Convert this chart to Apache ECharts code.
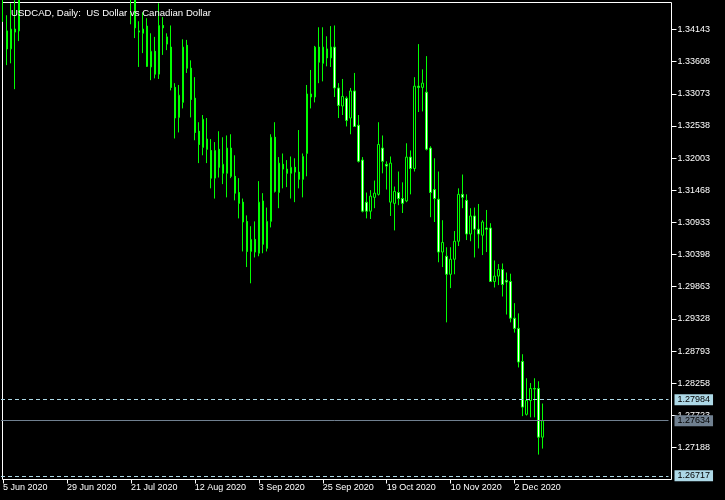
<!DOCTYPE html>
<html>
<head>
<meta charset="utf-8">
<script src="https://cdn.jsdelivr.net/npm/echarts@6/dist/echarts.min.js"></script>
<style>
html,body{margin:0;padding:0;background:#000;}
#c{width:725px;height:500px;}
</style>
</head>
<body>
<div id="c"></div>
<script>
// ---- data (bars 5..31 and tops of 0,4,32,33 lie above the visible range) ----
const opens = [1.3480,1.3412,1.3382,1.3415,1.3412,
1.3500,1.3560,1.3610,1.3570,1.3620,1.3580,1.3540,1.3590,1.3650,1.3630,1.3680,1.3660,1.3620,1.3580,1.3550,1.3570,1.3560,1.3590,1.3610,1.3580,1.3570,1.3590,1.3620,1.3600,1.3560,1.3580,1.3540,
1.3510,1.3470,1.3412,1.3408,1.3420,1.3352,1.3378,1.3340,1.3421,1.3402,1.3385,1.3318,1.3268,1.3293,1.3388,1.3350,1.3300,1.3245,1.3218,1.3232,
1.3213,1.3167,1.3215,1.3175,1.3175,1.3217,1.3170,1.3143,1.3127,1.3095,1.3045,1.3065,1.3042,1.3129,1.3050,1.3095,1.3235,1.3143,1.3190,1.3182,
1.3175,1.3185,1.3177,1.3165,1.3208,1.3307,1.3302,1.3385,1.3358,1.3382,1.3367,1.3385,1.3317,1.3287,1.3300,1.3267,1.3312,1.3255,1.3197,1.3127,
1.3112,1.3135,1.3140,1.3217,1.3190,1.3127,1.3125,1.3143,1.3133,1.3129,1.3202,1.3183,1.3320,1.3318,1.3310,1.3217,1.3148,1.3132,1.3044,1.3037,
1.3007,1.3032,1.3062,1.3140,1.3130,1.3074,1.3104,1.3082,1.3072,1.3084,1.3084,1.2995,1.3004,1.3015,1.2997,1.2995,1.2934,1.2917,1.2862,1.2774,
1.2797,1.2817,1.2817,1.2736];
const closes = [1.3470,1.3382,1.3415,1.3410,1.3500,
1.3560,1.3610,1.3570,1.3620,1.3580,1.3540,1.3590,1.3650,1.3630,1.3680,1.3660,1.3620,1.3580,1.3550,1.3570,1.3560,1.3590,1.3610,1.3580,1.3570,1.3590,1.3620,1.3600,1.3560,1.3580,1.3540,1.3510,
1.3480,1.3417,1.3410,1.3415,1.3353,1.3378,1.3340,1.3421,1.3417,1.3390,1.3318,1.3267,1.3305,1.3385,1.3350,1.3298,1.3243,1.3223,1.3265,1.3215,
1.3167,1.3213,1.3185,1.3190,1.3217,1.3170,1.3142,1.3125,1.3094,1.3045,1.3065,1.3044,1.3127,1.3057,1.3095,1.3235,1.3145,1.3192,1.3182,1.3175,
1.3185,1.3177,1.3165,1.3203,1.3307,1.3302,1.3385,1.3360,1.3385,1.3367,1.3385,1.3317,1.3288,1.3303,1.3263,1.3312,1.3253,1.3195,1.3112,1.3112,
1.3137,1.3142,1.3223,1.3195,1.3187,1.3192,1.3145,1.3133,1.3125,1.3202,1.3183,1.3320,1.3318,1.3325,1.3215,1.3143,1.3133,1.3044,1.3060,1.3007,
1.3032,1.3062,1.3140,1.3135,1.3074,1.3104,1.3082,1.3074,1.3094,1.3082,1.2995,1.3004,1.3015,1.2990,1.2994,1.2934,1.2917,1.2861,1.2786,1.2797,
1.2817,1.2816,1.2736,1.27634];
const lows = [1.3427,1.3355,1.3358,1.3315,1.3395,
1.3480,1.3530,1.3545,1.3550,1.3560,1.3510,1.3520,1.3570,1.3600,1.3610,1.3630,1.3600,1.3560,1.3530,1.3520,1.3540,1.3530,1.3560,1.3560,1.3530,1.3550,1.3570,1.3580,1.3540,1.3530,1.3520,1.3490,
1.3423,1.3400,1.3352,1.3375,1.3352,1.3330,1.3333,1.3332,1.3372,1.3380,1.3313,1.3233,1.3243,1.3283,1.3342,1.3268,1.3230,1.3192,1.3205,1.3192,
1.3150,1.3133,1.3168,1.3157,1.3135,1.3167,1.3130,1.3100,1.3045,1.3019,1.2992,1.3035,1.3037,1.3042,1.3045,1.3085,1.3143,1.3117,1.3150,1.3152,
1.3133,1.3127,1.3150,1.3135,1.3170,1.3283,1.3293,1.3325,1.3328,1.3353,1.3352,1.3302,1.3267,1.3272,1.3253,1.3240,1.3253,1.3193,1.3110,1.3100,
1.3099,1.3117,1.3138,1.3175,1.3148,1.3104,1.3080,1.3122,1.3109,1.3127,1.3140,1.3178,1.3277,1.3278,1.3213,1.3102,1.3094,1.3027,1.3019,1.2927,
1.2984,1.3007,1.3054,1.3117,1.3064,1.3062,1.3035,1.3050,1.3039,1.3044,1.2994,1.2985,1.2989,1.2970,1.2940,1.2927,1.2910,1.2852,1.2771,1.2772,
1.2769,1.2769,1.2707,1.2717];
const highs = [1.3510,1.3438,1.3458,1.3463,1.3530,
1.3590,1.3640,1.3630,1.3660,1.3650,1.3610,1.3620,1.3680,1.3690,1.3710,1.3700,1.3690,1.3650,1.3610,1.3600,1.3590,1.3620,1.3640,1.3630,1.3600,1.3620,1.3650,1.3640,1.3620,1.3600,1.3600,1.3560,
1.3530,1.3490,1.3428,1.3443,1.3433,1.3408,1.3402,1.3458,1.3435,1.3408,1.3421,1.3325,1.3322,1.3398,1.3397,1.3363,1.3335,1.3260,1.3272,1.3267,
1.3232,1.3227,1.3245,1.3235,1.3238,1.3240,1.3205,1.3167,1.3133,1.3105,1.3087,1.3095,1.3162,1.3142,1.3118,1.3240,1.3260,1.3202,1.3208,1.3197,
1.3203,1.3200,1.3247,1.3208,1.3322,1.3347,1.3387,1.3418,1.3418,1.3403,1.3420,1.3421,1.3325,1.3332,1.3303,1.3317,1.3342,1.3272,1.3202,1.3143,
1.3147,1.3163,1.3260,1.3238,1.3195,1.3203,1.3153,1.3178,1.3160,1.3225,1.3213,1.3335,1.3390,1.3348,1.3370,1.3220,1.3200,1.3178,1.3097,1.3052,
1.3052,1.3079,1.3150,1.3173,1.3140,1.3117,1.3118,1.3124,1.3097,1.3114,1.3092,1.3030,1.3024,1.3025,1.3010,1.3008,1.2959,1.2942,1.2874,1.2834,
1.2826,1.2834,1.2829,1.2792];

const yTickValues = [1.34143,1.33608,1.33073,1.32538,1.32003,1.31468,1.30933,1.30398,1.29863,1.29328,1.28793,1.28258,1.27723,1.27188];
const dashedLevels = [1.27984, 1.26717];
const bidLevel = 1.27634;
const titleText = 'USDCAD, Daily:  US Dollar vs Canadian Dollar';
const startDate = [2020, 5, 5];   // 5 Jun 2020
const slotCount = 167;            // visible bar slots incl. right-hand shift
const labelEvery = 16;

// ---- build trading-day categories ----
const MON = ['Jan','Feb','Mar','Apr','May','Jun','Jul','Aug','Sep','Oct','Nov','Dec'];
const dates = [];
let d = new Date(Date.UTC(startDate[0], startDate[1], startDate[2]));
while (dates.length < slotCount) {
  const wd = d.getUTCDay();
  if (wd !== 0 && wd !== 6) dates.push(d.getUTCDate() + ' ' + MON[d.getUTCMonth()] + ' ' + d.getUTCFullYear());
  d = new Date(d.getTime() + 86400000);
}
const candles = opens.map((o, i) => [o, closes[i], lows[i], highs[i]]);
const showTick = (i) => i % labelEvery === 0 && i < candles.length;

const FONT = 'Liberation Sans';
const chart = echarts.init(document.getElementById('c'), null, {renderer: 'canvas', width: 725, height: 500});
chart.setOption({
  backgroundColor: '#000',
  animation: false,
  title: {
    text: titleText, left: 6, top: 3,
    textStyle: {color: '#fff', fontSize: 9.6, fontWeight: 'normal', fontFamily: FONT}
  },
  grid: [
    {left: 0.5, width: 668, top: 2.5, bottom: 20.5, show: false},
    {left: 2.5, right: 53.5, top: 2.5, bottom: 20.5, show: true, borderColor: '#fff', borderWidth: 1, backgroundColor: 'transparent'}
  ],
  xAxis: [
    {
      type: 'category', gridIndex: 0, data: dates, boundaryGap: true,
      axisLine: {show: false},
      axisTick: {show: true, alignWithLabel: true, interval: showTick, length: 4, lineStyle: {color: '#fff'}},
      axisLabel: {interval: showTick, align: 'left', color: '#fff', fontSize: 9, fontFamily: FONT, margin: 4},
      splitLine: {show: false}
    },
    {type: 'category', gridIndex: 1, show: false, data: []}
  ],
  yAxis: [
    {
      type: 'value', gridIndex: 0, position: 'right', offset: 3,
      min: 1.266556, max: 1.345922, scale: true,
      axisLine: {show: false},
      axisTick: {show: true, length: 5, customValues: yTickValues, lineStyle: {color: '#fff'}},
      axisLabel: {customValues: yTickValues, color: '#fff', fontSize: 9, fontFamily: FONT, margin: 6,
                  formatter: (v) => v.toFixed(5)},
      splitLine: {show: false}
    },
    {type: 'value', gridIndex: 1, show: false}
  ],
  series: [{
    type: 'candlestick',
    xAxisIndex: 0, yAxisIndex: 0,
    data: candles,
    barWidth: 2,
    clip: true,
    itemStyle: {color: '#000', color0: '#fff', borderColor: '#00ff00', borderColor0: '#00ff00', borderWidth: 1},
    markLine: {
      silent: true, animation: false, symbol: ['none', 'none'], precision: 5,
      label: {show: true, position: 'end', distance: 6, color: '#000', fontSize: 9, fontFamily: FONT,
              lineHeight: 11, padding: [0, 3, 0, 3], formatter: (p) => Number(p.value).toFixed(5)},
      data: [
        {yAxis: dashedLevels[0], lineStyle: {color: '#add8e6', type: [4, 3], width: 1}, label: {backgroundColor: '#add8e6'}},
        {yAxis: dashedLevels[1], lineStyle: {color: '#add8e6', type: [4, 3], width: 1}, label: {backgroundColor: '#add8e6'}},
        {yAxis: bidLevel, lineStyle: {color: '#708090', type: 'solid', width: 1}, label: {backgroundColor: '#708090'}}
      ]
    }
  }]
});
</script>
</body>
</html>
